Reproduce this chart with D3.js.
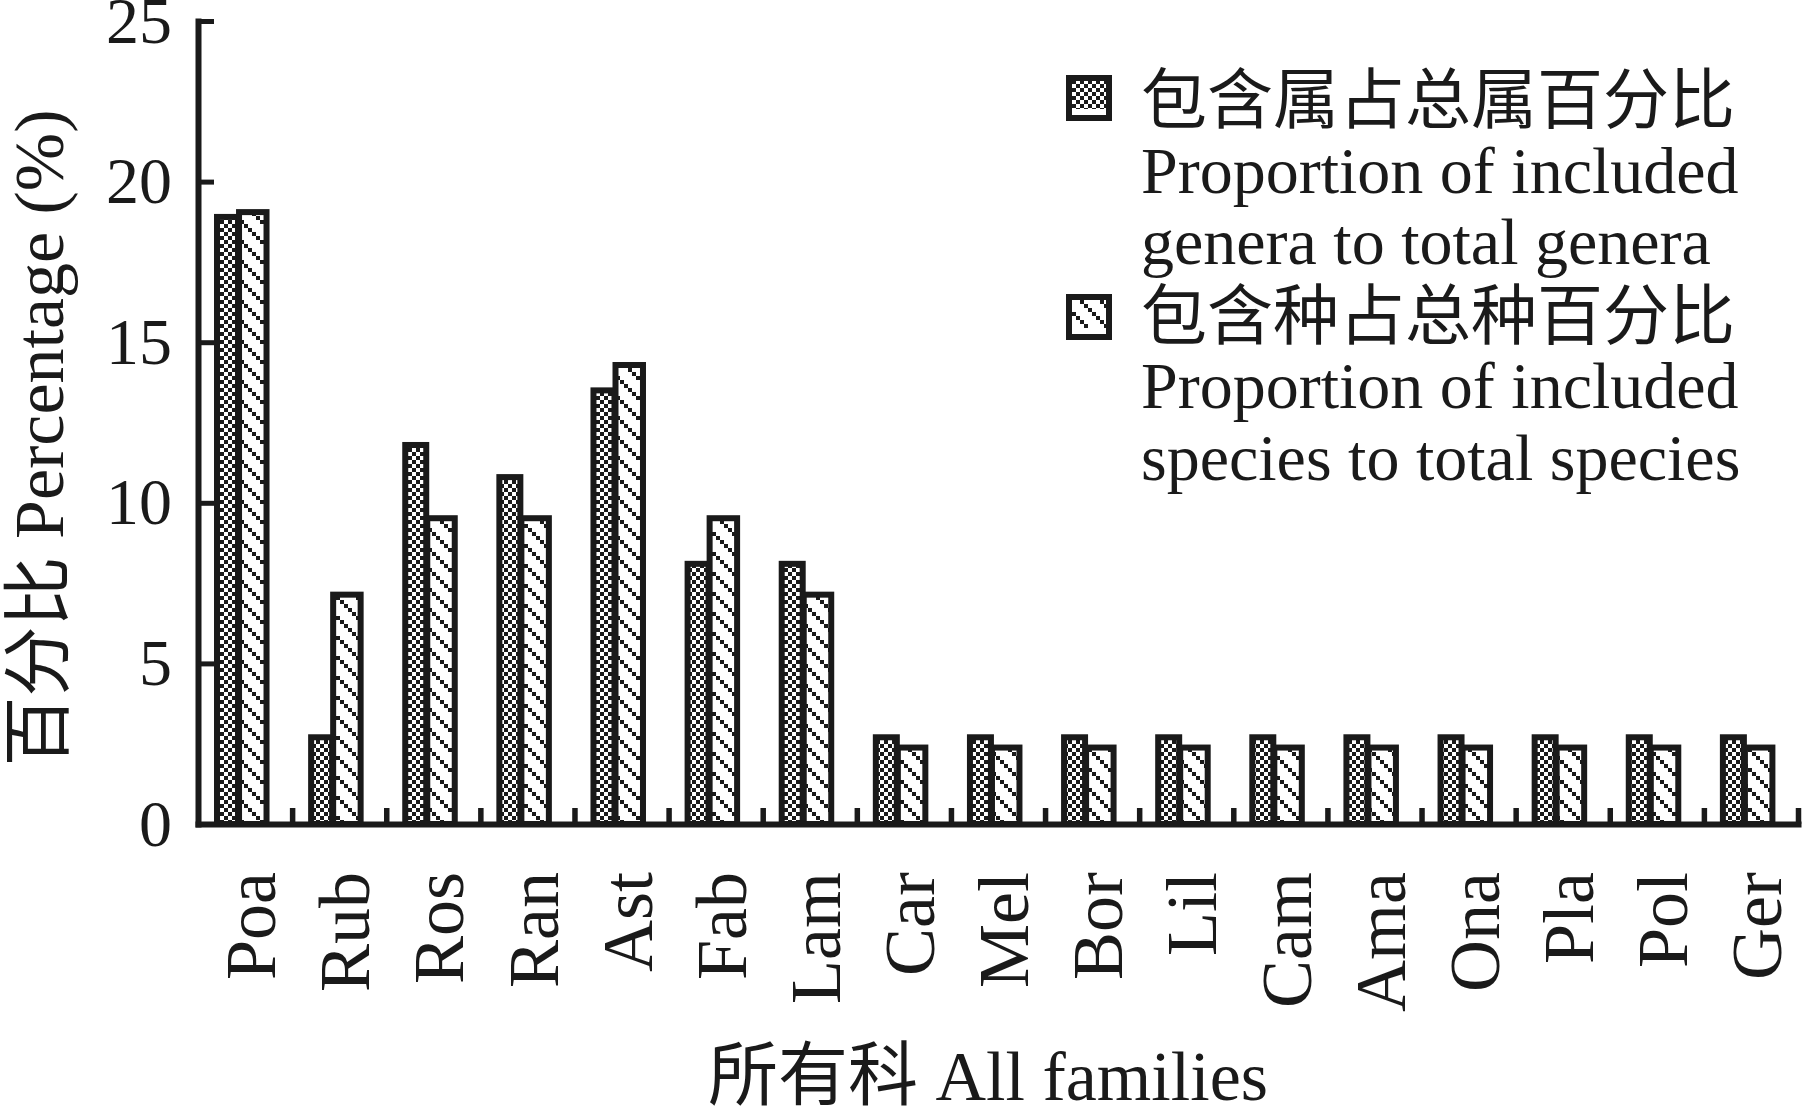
<!DOCTYPE html>
<html>
<head>
<meta charset="utf-8">
<script src="https://cdn.jsdelivr.net/npm/d3@7"></script>
<style>
  html, body { margin: 0; padding: 0; background: #fff; }
  svg { display: block; }
  text { font-family: "Liberation Serif", "Times New Roman", "Noto Sans CJK SC", serif; fill: #1a1a1a; }
</style>
</head>
<body>
<svg id="chart" width="1802" height="1112"></svg>
<script>
// ---- data ----
const categories = ["Poa","Rub","Ros","Ran","Ast","Fab","Lam","Car","Mel","Bor","Lil","Cam","Ama","Ona","Pla","Pol","Ger"];
const generaPct  = [18.9, 2.7, 11.8, 10.8, 13.5, 8.1, 8.1, 2.7, 2.7, 2.7, 2.7, 2.7, 2.7, 2.7, 2.7, 2.7, 2.7];
const speciesPct = [19.05, 7.14, 9.52, 9.52, 14.29, 9.52, 7.14, 2.38, 2.38, 2.38, 2.38, 2.38, 2.38, 2.38, 2.38, 2.38, 2.38];
const yTicks = [0, 5, 10, 15, 20, 25];
const legendLines = [
  ["包含属占总属百分比", "Proportion of included", "genera to total genera"],
  ["包含种占总种百分比", "Proportion of included", "species to total species"]
];
const yTitle = "百分比 Percentage (%)";
const xTitle = "所有科 All families";

(function () {
// ---- layout ----
const W = 1802, H = 1112;
const pLeft = 198, pRight = 1798, pTop = 21, pBottom = 824;
const ink = "#1a1a1a";

const svg = d3.select("#chart");
svg.append("rect").attr("width", W).attr("height", H).attr("fill", "#fff");

const defs = svg.append("defs");
// checkerboard pattern (genera)
const chk = defs.append("pattern").attr("id", "checker")
  .attr("patternUnits", "userSpaceOnUse").attr("width", 8).attr("height", 8);
chk.append("rect").attr("width", 8).attr("height", 8).attr("fill", "#fff");
chk.append("rect").attr("x", 0).attr("y", 0).attr("width", 4).attr("height", 4).attr("fill", ink);
chk.append("rect").attr("x", 4).attr("y", 4).attr("width", 4).attr("height", 4).attr("fill", ink);
// staircase diagonal pattern (species)
const dg = defs.append("pattern").attr("id", "diag")
  .attr("patternUnits", "userSpaceOnUse").attr("width", 20).attr("height", 20);
dg.append("rect").attr("width", 20).attr("height", 20).attr("fill", "#fff");
[0, 4, 8, 12, 16].forEach(s => dg.append("rect").attr("x", s).attr("y", s)
  .attr("width", 4).attr("height", 4).attr("fill", ink));

const x = d3.scaleBand().domain(categories).range([pLeft, pRight]).paddingInner(0).paddingOuter(0);
const y = d3.scaleLinear().domain([0, 25]).range([pBottom, pTop]);
const bw = x.bandwidth();
const bnd = d3.scaleLinear().domain([0, categories.length]).range([pLeft, pRight]);

// ---- bars ----
const sw = 6;
const gOff = 0.202, gW = 0.223, sOff = 0.436, sW = 0.292;
const bars = svg.append("g");
bars.selectAll("rect.gen").data(categories).join("rect").attr("class", "gen")
  .attr("x", d => x(d) + gOff * bw)
  .attr("width", gW * bw)
  .attr("y", (d, i) => y(generaPct[i]))
  .attr("height", (d, i) => y(0) - y(generaPct[i]))
  .attr("fill", "url(#checker)").attr("stroke", ink).attr("stroke-width", sw);
bars.selectAll("rect.spe").data(categories).join("rect").attr("class", "spe")
  .attr("x", d => x(d) + sOff * bw)
  .attr("width", sW * bw)
  .attr("y", (d, i) => y(speciesPct[i]))
  .attr("height", (d, i) => y(0) - y(speciesPct[i]))
  .attr("fill", "url(#diag)").attr("stroke", ink).attr("stroke-width", sw);

// ---- axes ----
const yAxis = svg.append("g").attr("transform", `translate(${pLeft},0)`)
  .call(d3.axisLeft(y).tickValues(yTicks).tickSize(-16).tickSizeOuter(0).tickPadding(26).tickFormat(d3.format("d")));
yAxis.select(".domain").attr("stroke", ink).attr("stroke-width", 6).attr("stroke-linecap", "square");
yAxis.selectAll(".tick line").attr("stroke", ink).attr("stroke-width", 5);
yAxis.selectAll(".tick text").attr("font-size", 66).attr("fill", ink)
  .style("font-family", "'Liberation Serif', serif");

const xAxis = svg.append("g").attr("transform", `translate(0,${pBottom})`)
  .call(d3.axisBottom(bnd).tickValues(d3.range(1, categories.length + 1)).tickSize(-16).tickSizeOuter(0).tickFormat(""));
xAxis.select(".domain").attr("stroke", ink).attr("stroke-width", 6).attr("stroke-linecap", "square");
xAxis.selectAll(".tick line").attr("stroke", ink).attr("stroke-width", 5.5);

// category labels
svg.append("g").selectAll("text").data(categories).join("text")
  .attr("transform", d => `translate(${x(d) + bw / 2 + 5},872) rotate(-90)`)
  .attr("text-anchor", "end")
  .attr("dy", "0.35em")
  .attr("font-size", 72)
  .text(d => d);

// axis titles
svg.append("text")
  .attr("transform", `translate(63,438) rotate(-90)`)
  .attr("text-anchor", "middle")
  .attr("font-size", 70)
  .text(yTitle);
svg.append("text")
  .attr("x", 988).attr("y", 1100)
  .attr("text-anchor", "middle")
  .attr("font-size", 70)
  .text(xTitle);

// ---- legend ----
const legendFills = ["url(#checker)", "url(#diag)"];
const swatchY = [78, 297];
const lineBase = [[123, 193, 264], [339, 408, 480]];
const lg = svg.append("g");
legendLines.forEach((lines, k) => {
  lg.append("rect").attr("x", 1069).attr("y", swatchY[k]).attr("width", 40).attr("height", 40)
    .attr("fill", legendFills[k]).attr("stroke", ink).attr("stroke-width", sw);
  lg.append("rect").attr("x", 1072).attr("y", swatchY[k] + 31).attr("width", 34).attr("height", 6)
    .attr("fill", "#fff");
  lines.forEach((t, j) => {
    lg.append("text").attr("x", 1141).attr("y", lineBase[k][j])
      .attr("font-size", 66).text(t);
  });
});
})();
</script>
</body>
</html>
